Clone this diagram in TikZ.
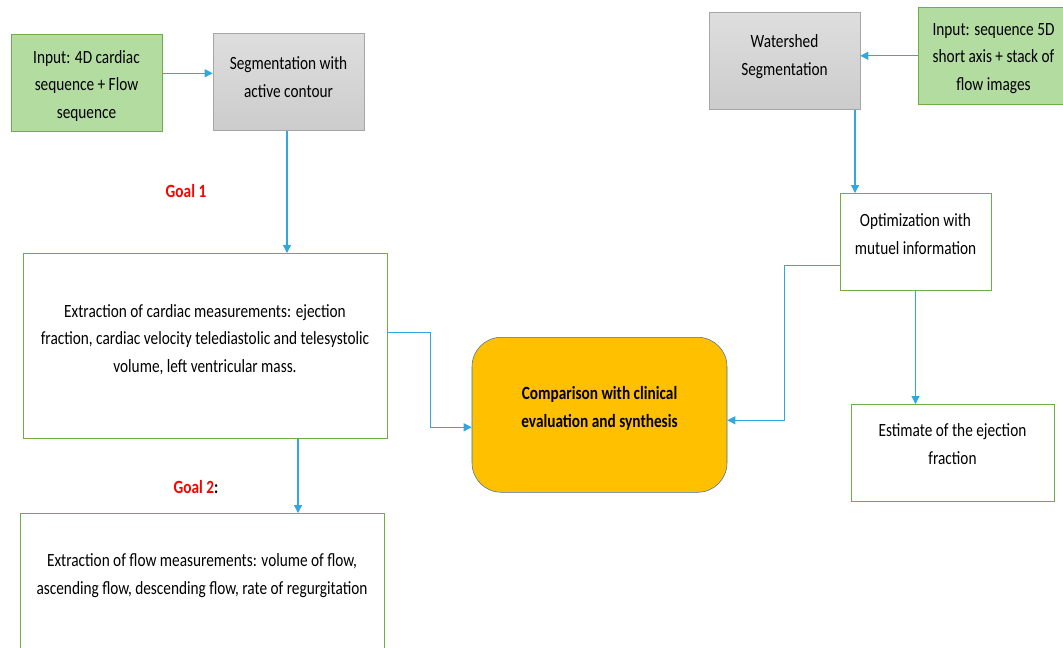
\documentclass[tikz,border=0pt]{standalone}
\usepackage{fontspec}
\setmainfont{Carlito}[FakeStretch=0.82]
\usetikzlibrary{arrows.meta,calc,positioning}
\definecolor{boxgreen}{HTML}{B3DCA0}
\definecolor{linegreen}{HTML}{70AD47}
\definecolor{greytop}{HTML}{DEDEDE}
\definecolor{greybot}{HTML}{CCCCCC}
\definecolor{lineGrey}{HTML}{A6A6A6}
\definecolor{goldfill}{HTML}{FFC000}
\definecolor{goldline}{HTML}{41719C}
\definecolor{flowblue}{HTML}{2FA8E0}

\begin{document}
\begin{tikzpicture}[x=0.75pt,y=-0.75pt,
every node/.style={draw,align=center,font=\fontsize{14}{20.6}\selectfont,inner sep=2pt,anchor=north},
textpos/.style 2 args={text height=#1,text depth=#2},
inbox/.style={fill=boxgreen,draw=linegreen,minimum width=113.25pt},
segbox/.style={top color=greytop,bottom color=greybot,draw=lineGrey,minimum width=113.25pt},
plainbox/.style={draw=linegreen,fill=white},
goal/.style={draw=none,anchor=center,text=red,font=\fontsize{14}{15}\selectfont\bfseries},
flow/.style={draw=flowblue,line width=0.8pt,-{Triangle[length=6pt,width=6pt]}}]

\useasboundingbox (0,0) rectangle (1063,647);
\clip (0,0) rectangle (1063,647);

% left branch
\node[inbox,textpos={61pt}{7.75pt}] (in1) at (86.5,34) {Input: 4D cardiac\\ sequence + Flow\\ sequence};
\node[segbox,textpos={46pt}{22.75pt}] (seg) at (288.5,33) {Segmentation with\\ active contour};
\node[goal] (g1) at (186,191) {Goal 1};
\node[plainbox,minimum width=273pt,textpos={87.25pt}{47.5pt}] (ext1) at (205,253)
  {Extraction of cardiac measurements: ejection\\ fraction, cardiac velocity telediastolic and telesystolic\\ volume, left ventricular mass.};
\node[goal] (g2) at (196,487) {Goal 2\textcolor{black}{:}};
\node[plainbox,minimum width=273pt,textpos={58.75pt}{100pt}] (ext2) at (202,513)
  {Extraction of flow measurements: volume of flow,\\ ascending flow, descending flow, rate of regurgitation};

% centre
\node[fill=goldfill,draw=goldline,rounded corners=22pt,minimum width=191.25pt,textpos={65.5pt}{46.75pt},
  font=\fontsize{14}{20.6}\selectfont\bfseries] (comp) at (599.5,337)
  {Comparison with clinical\\ evaluation and synthesis};

% right branch
\node[segbox,textpos={45.25pt}{23.5pt}] (water) at (784.5,12) {Watershed\\ Segmentation};
\node[inbox,textpos={60.25pt}{8.5pt}] (in2) at (993.5,7) {Input: sequence 5D\\ short axis + stack of\\ flow images};
\node[plainbox,minimum width=113.25pt,textpos={43.75pt}{25pt}] (opt) at (915.5,193)
  {Optimization with\\ mutuel information};
\node[plainbox,minimum width=152.25pt,textpos={43pt}{25.75pt}] (est) at (952.5,404)
  {Estimate of the ejection\\ fraction};

% connectors
\coordinate (a1) at ($(in1.east)+(0,-9.5)$);
\draw[flow] (a1) -- (a1 -| seg.west);
\coordinate (a2) at ($(seg.south)+(-1.5,0)$);
\draw[flow] (a2) -- (a2 |- ext1.north);
\draw[flow] ($(ext1.east)+(0,-13.5)$) -- ++(43,0) |- ($(comp.west)+(0,12.5)$);
\coordinate (a3) at ($(ext1.south)+(93,0)$);
\draw[flow] (a3) -- (a3 |- ext2.north);
\draw[flow] (in2.west) -- (in2.west -| water.east);
\coordinate (a4) at ($(water.south)+(70.5,0)$);
\draw[flow] (a4) -- (a4 |- opt.north);
\draw[flow] ($(opt.west)+(0,23.5)$) -- ++(-55,0) |- ($(comp.east)+(0,5.5)$);
\draw[flow] (opt.south) -- (opt.south |- est.north);
\end{tikzpicture}
\end{document}
